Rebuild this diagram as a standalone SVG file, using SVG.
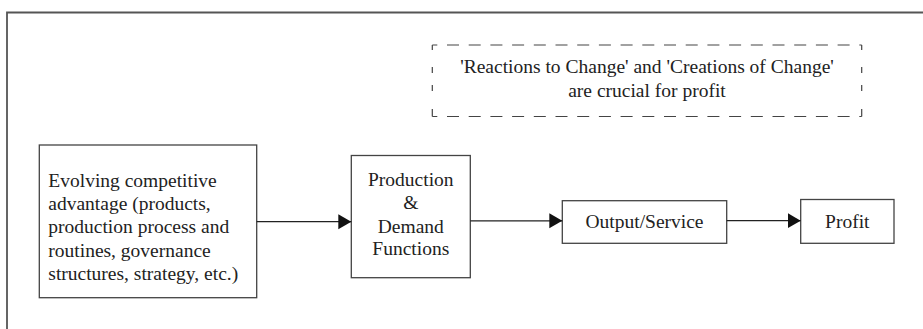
<svg xmlns="http://www.w3.org/2000/svg" width="923" height="329" viewBox="0 0 923 329">
  <style>
    .frame { fill: none; stroke: #555; stroke-width: 1.8; }
    .box { fill: #fff; stroke: #444; stroke-width: 1.3; }
    .dash { fill: none; stroke: #444; stroke-width: 1.2; }
    .link { fill: none; stroke: #222; stroke-width: 1.2; }
    .lbl { font-family: 'Liberation Serif', 'Times New Roman', Times, 'DejaVu Serif', serif; font-size: 19.5px; fill: #222; }
    .mid { text-anchor: middle; }
  </style>
  <defs>
    <marker id="arrow" markerUnits="userSpaceOnUse" markerWidth="14" markerHeight="16" refX="13" refY="7.5" orient="auto">
      <path d="M0,0 L13,7.5 L0,15 Z" fill="#111"/>
    </marker>
  </defs>

  <rect width="923" height="329" fill="#fff"/>

  <!-- outer frame, open to the right and bottom -->
  <path class="frame" d="M7,329 V12.5 H923"/>

  <!-- dashed note box -->
  <g id="note" class="lbl" font-family="Liberation Serif, serif">
    <path class="dash" d="M432.3,45 H861.7" stroke-dasharray="12 9.7" stroke-dashoffset="7"/>
    <path class="dash" d="M432.3,116.5 H861.7" stroke-dasharray="12 9.7" stroke-dashoffset="7"/>
    <path class="dash" d="M432.3,45 V116.5" stroke-dasharray="5 17 6 12 6 18 8"/>
    <path class="dash" d="M861.7,45 V116.5" stroke-dasharray="5 17 6 12 6 18 8"/>
    <text class="mid" x="647" y="73.3">'Reactions to Change' and 'Creations of Change'</text>
    <text class="mid" x="647" y="96.7">are crucial for profit</text>
  </g>

  <g id="advantage" class="lbl" font-family="Liberation Serif, serif">
    <rect class="box" x="39.3" y="145" width="217.4" height="152.7"/>
    <text x="48.3" y="186.7">Evolving competitive</text>
    <text x="48.3" y="210">advantage (products,</text>
    <text x="48.3" y="233.3">production process and</text>
    <text x="48.3" y="256.7">routines, governance</text>
    <text x="48.3" y="280">structures, strategy, etc.)</text>
  </g>

  <g id="functions" class="lbl" font-family="Liberation Serif, serif">
    <rect class="box" x="351.3" y="155.5" width="119" height="122.2"/>
    <text class="mid" x="410.8" y="186">Production</text>
    <text class="mid" x="410.8" y="209.3">&amp;</text>
    <text class="mid" x="410.8" y="232.7">Demand</text>
    <text class="mid" x="410.8" y="255">Functions</text>
  </g>

  <g id="output" class="lbl" font-family="Liberation Serif, serif">
    <rect class="box" x="562.3" y="200.7" width="164.4" height="42.6"/>
    <text class="mid" x="644.5" y="228.3">Output/Service</text>
  </g>

  <g id="profit" class="lbl" font-family="Liberation Serif, serif">
    <rect class="box" x="800.7" y="199.5" width="93.3" height="43.8"/>
    <text class="mid" x="847.3" y="228.3">Profit</text>
  </g>

  <g id="connectors">
    <line class="link" x1="256.7" y1="221.7" x2="351.3" y2="221.7" marker-end="url(#arrow)"/>
    <line class="link" x1="470.3" y1="220.8" x2="562.3" y2="220.8" marker-end="url(#arrow)"/>
    <line class="link" x1="726.7" y1="220.7" x2="800.7" y2="220.7" marker-end="url(#arrow)"/>
  </g>
</svg>
